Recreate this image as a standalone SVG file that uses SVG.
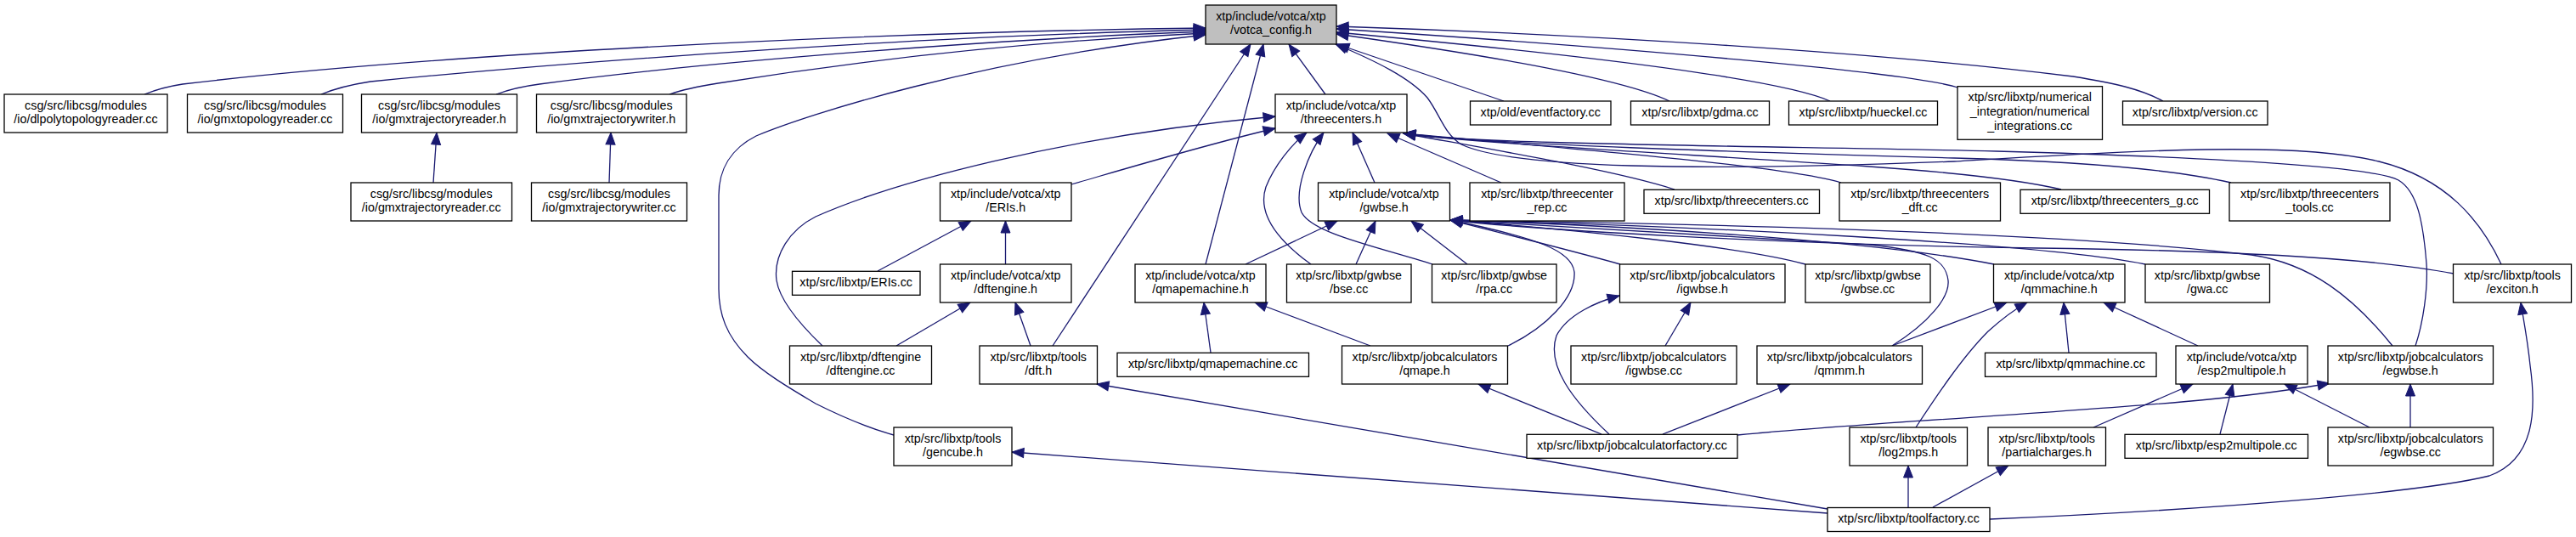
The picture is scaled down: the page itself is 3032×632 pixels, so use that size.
<svg xmlns="http://www.w3.org/2000/svg" width="3032" height="632" viewBox="0 0 3032 632">
<style>
.n rect{fill:#fff;stroke:#000;stroke-width:1.3}
#n0 rect{fill:#bfbfbf}
.n text{font-family:"Liberation Sans",Arial,sans-serif;font-size:14.3px;text-anchor:middle;fill:#000}
.e path{fill:none;stroke:#191970;stroke-width:1.3;marker-end:url(#a)}
</style>
<defs>
<marker id="a" markerUnits="userSpaceOnUse" markerWidth="16" markerHeight="12" refX="14" refY="5.5" orient="auto" overflow="visible"><path d="M0,0 L14,5.5 L0,11 z" fill="#191970" stroke="#191970" stroke-width="1"/></marker>
</defs>
<rect width="3032" height="632" fill="#fff"/>
<g id="edges" class="e">
<path d="M170,111 C185,105 195,102 215,99 C500,65 1000,38 1419,33"/>
<path d="M378,111 C395,104 410,100 436,96 C700,70 1100,42 1419,35"/>
<path d="M584,111 C600,105 612,102 635,99 C850,70 1200,45 1419,37"/>
<path d="M788,111 C805,105 820,102 845,98 C1050,65 1250,47 1419,39"/>
<path d="M1052,512 C1020,503 990,490 960,475 C935,460 900,440 880,420 C855,395 846,370 846,340 L846,230 C846,200 860,175 890,160 C950,135 1150,70 1419,41"/>
<path d="M1239,407 L1472,52"/>
<path d="M1419,311 L1487,52"/>
<path d="M1560,111 L1517,52"/>
<path d="M1770,119 L1574,52"/>
<path d="M2944,311 C2920,260 2880,210 2800,190 C2700,165 2500,178 2300,190 C2000,202 1780,198 1720,170 C1700,158 1695,135 1680,115 C1660,92 1620,72 1572,52"/>
<path d="M1965,119 C1900,88 1700,58 1573,40"/>
<path d="M2154,119 C2100,95 1900,68 1573,38"/>
<path d="M2304,103 C2250,85 1900,55 1573,34"/>
<path d="M2546,119 C2520,105 2490,98 2440,90 C2200,60 1850,40 1573,31"/>
<path d="M2843,407 C2852,380 2858,340 2856,310 C2852,260 2845,225 2823,212 C2790,195 2600,185 2350,178 C2100,172 1720,170 1652,157"/>
<path d="M1767,215 L1633,157"/>
<path d="M1971,223 C1900,200 1750,175 1652,157"/>
<path d="M2167,215 C2100,195 1850,175 1652,157"/>
<path d="M2426,223 C2380,212 2300,203 2200,196 C2000,182 1750,170 1652,157"/>
<path d="M2626,215 C2560,200 2450,190 2300,186 C2050,179 1750,170 1652,157"/>
<path d="M1261,217 C1320,200 1420,170 1501,151"/>
<path d="M968,407 C945,385 918,355 914,330 C910,300 930,270 960,255 C1050,215 1250,160 1501,137"/>
<path d="M1618,215 L1592,156"/>
<path d="M1543,311 C1500,280 1480,250 1490,220 C1500,195 1520,170 1538,156"/>
<path d="M1686,311 C1620,290 1545,275 1532,250 C1522,225 1540,180 1558,156"/>
<path d="M1466,311 L1574,260"/>
<path d="M1596,311 L1619,260"/>
<path d="M1727,311 L1661,260"/>
<path d="M1775,407 C1820,385 1855,350 1853,320 C1850,295 1810,280 1707,259"/>
<path d="M1907,311 C1850,295 1770,275 1707,259"/>
<path d="M2125,311 C2050,290 1850,270 1707,259"/>
<path d="M2347,311 C2200,282 1900,265 1707,259"/>
<path d="M2525,311 C2400,286 2000,266 1707,259"/>
<path d="M2888,322 C2800,305 2650,295 2400,292 C2100,288 1800,270 1707,259"/>
<path d="M2816,407 C2770,350 2720,310 2650,300 C2400,270 1900,262 1707,259"/>
<path d="M2227,407 C2270,380 2295,350 2293,330 C2290,305 2270,295 2200,288 C2000,275 1800,264 1707,259"/>
<path d="M1033,319 L1143,260"/>
<path d="M1183.5,311 L1183.5,260"/>
<path d="M1055,407 L1142,356"/>
<path d="M1213,407 L1195,356"/>
<path d="M1425,415 L1417,356"/>
<path d="M1613,407 L1477,356"/>
<path d="M1885,511 L1740,452"/>
<path d="M1894,511 C1850,470 1820,430 1832,395 C1845,370 1880,355 1906,348"/>
<path d="M1960,407 L1990,356"/>
<path d="M1957,511 L2107,452"/>
<path d="M2045,512 C2200,497 2450,485 2600,470 C2680,462 2720,455 2742,451"/>
<path d="M2227,407 L2362,356"/>
<path d="M2255,503 C2280,465 2310,420 2340,390 C2360,372 2375,362 2386,356"/>
<path d="M2435,415 L2429,356"/>
<path d="M2587,407 L2476,356"/>
<path d="M2464,503 L2581,452"/>
<path d="M2613,511 L2628,452"/>
<path d="M2789,503 L2689,452"/>
<path d="M2837,503 L2837,452"/>
<path d="M2275,597 L2364,548"/>
<path d="M2246,597 L2246,548"/>
<path d="M2342,611 C2600,600 2850,580 2930,560 C2985,540 2985,480 2978,430 C2975,400 2970,375 2967,356"/>
<path d="M2151,599 L1291,452"/>
<path d="M2151,604 L1191,532"/>
<path d="M510,215 L514,156"/>
<path d="M717,215 L719,156"/>
</g>
<g id="n0" class="n"><rect x="1419" y="6" width="154" height="46"/><text x="1496" y="23.6">xtp/include/votca/xtp</text><text x="1496" y="40.3">/votca_config.h</text></g>
<g id="n1" class="n"><rect x="5" y="111" width="192" height="45"/><text x="101" y="128.6">csg/src/libcsg/modules</text><text x="101" y="145.3">/io/dlpolytopologyreader.cc</text></g>
<g id="n2" class="n"><rect x="220.5" y="111" width="183" height="45"/><text x="312" y="128.6">csg/src/libcsg/modules</text><text x="312" y="145.3">/io/gmxtopologyreader.cc</text></g>
<g id="n3" class="n"><rect x="425.5" y="111" width="183" height="45"/><text x="517" y="128.6">csg/src/libcsg/modules</text><text x="517" y="145.3">/io/gmxtrajectoryreader.h</text></g>
<g id="n4" class="n"><rect x="631.5" y="111" width="176.5" height="45"/><text x="719.7" y="128.6">csg/src/libcsg/modules</text><text x="719.7" y="145.3">/io/gmxtrajectorywriter.h</text></g>
<g id="n5" class="n"><rect x="1501" y="111" width="155" height="45"/><text x="1578.5" y="128.6">xtp/include/votca/xtp</text><text x="1578.5" y="145.3">/threecenters.h</text></g>
<g id="n6" class="n"><rect x="1730.5" y="119" width="165.5" height="28"/><text x="1813.2" y="136.7">xtp/old/eventfactory.cc</text></g>
<g id="n7" class="n"><rect x="1919.5" y="119" width="163" height="28"/><text x="2001" y="136.7">xtp/src/libxtp/gdma.cc</text></g>
<g id="n8" class="n"><rect x="2105.5" y="119" width="175" height="28"/><text x="2193" y="136.7">xtp/src/libxtp/hueckel.cc</text></g>
<g id="n9" class="n"><rect x="2304" y="101.7" width="170.5" height="62.6"/><text x="2389.2" y="119.3">xtp/src/libxtp/numerical</text><text x="2389.2" y="136">_integration/numerical</text><text x="2389.2" y="152.7">_integrations.cc</text></g>
<g id="n10" class="n"><rect x="2498.5" y="119" width="170.5" height="28"/><text x="2583.7" y="136.7">xtp/src/libxtp/version.cc</text></g>
<g id="n11" class="n"><rect x="413" y="215" width="189.5" height="45"/><text x="507.7" y="232.6">csg/src/libcsg/modules</text><text x="507.7" y="249.3">/io/gmxtrajectoryreader.cc</text></g>
<g id="n12" class="n"><rect x="625.5" y="215" width="183" height="45"/><text x="717" y="232.6">csg/src/libcsg/modules</text><text x="717" y="249.3">/io/gmxtrajectorywriter.cc</text></g>
<g id="n13" class="n"><rect x="1106.5" y="215" width="154.5" height="45"/><text x="1183.7" y="232.6">xtp/include/votca/xtp</text><text x="1183.7" y="249.3">/ERIs.h</text></g>
<g id="n14" class="n"><rect x="1551.5" y="215" width="155" height="45"/><text x="1629" y="232.6">xtp/include/votca/xtp</text><text x="1629" y="249.3">/gwbse.h</text></g>
<g id="n15" class="n"><rect x="1730" y="215" width="182" height="45"/><text x="1821" y="232.6">xtp/src/libxtp/threecenter</text><text x="1821" y="249.3">_rep.cc</text></g>
<g id="n16" class="n"><rect x="1935" y="223.3" width="206.5" height="28"/><text x="2038.2" y="241">xtp/src/libxtp/threecenters.cc</text></g>
<g id="n17" class="n"><rect x="2165" y="215" width="189.5" height="45"/><text x="2259.7" y="232.6">xtp/src/libxtp/threecenters</text><text x="2259.7" y="249.3">_dft.cc</text></g>
<g id="n18" class="n"><rect x="2378" y="223.3" width="222.5" height="28"/><text x="2489.2" y="241">xtp/src/libxtp/threecenters_g.cc</text></g>
<g id="n19" class="n"><rect x="2624" y="215" width="189" height="45"/><text x="2718.5" y="232.6">xtp/src/libxtp/threecenters</text><text x="2718.5" y="249.3">_tools.cc</text></g>
<g id="n20" class="n"><rect x="932.5" y="319.3" width="150.5" height="28"/><text x="1007.7" y="337">xtp/src/libxtp/ERIs.cc</text></g>
<g id="n21" class="n"><rect x="1106.5" y="311" width="154.5" height="45"/><text x="1183.7" y="328.6">xtp/include/votca/xtp</text><text x="1183.7" y="345.3">/dftengine.h</text></g>
<g id="n22" class="n"><rect x="1336" y="311" width="154" height="45"/><text x="1413" y="328.6">xtp/include/votca/xtp</text><text x="1413" y="345.3">/qmapemachine.h</text></g>
<g id="n23" class="n"><rect x="1514.5" y="311" width="146.5" height="45"/><text x="1587.7" y="328.6">xtp/src/libxtp/gwbse</text><text x="1587.7" y="345.3">/bse.cc</text></g>
<g id="n24" class="n"><rect x="1685.5" y="311" width="146.5" height="45"/><text x="1758.7" y="328.6">xtp/src/libxtp/gwbse</text><text x="1758.7" y="345.3">/rpa.cc</text></g>
<g id="n25" class="n"><rect x="1906.5" y="311" width="194.5" height="45"/><text x="2003.7" y="328.6">xtp/src/libxtp/jobcalculators</text><text x="2003.7" y="345.3">/igwbse.h</text></g>
<g id="n26" class="n"><rect x="2125" y="311" width="147" height="45"/><text x="2198.5" y="328.6">xtp/src/libxtp/gwbse</text><text x="2198.5" y="345.3">/gwbse.cc</text></g>
<g id="n27" class="n"><rect x="2346.5" y="311" width="154.5" height="45"/><text x="2423.7" y="328.6">xtp/include/votca/xtp</text><text x="2423.7" y="345.3">/qmmachine.h</text></g>
<g id="n28" class="n"><rect x="2525" y="311" width="146.5" height="45"/><text x="2598.2" y="328.6">xtp/src/libxtp/gwbse</text><text x="2598.2" y="345.3">/gwa.cc</text></g>
<g id="n29" class="n"><rect x="2887.5" y="311" width="139" height="45"/><text x="2957" y="328.6">xtp/src/libxtp/tools</text><text x="2957" y="345.3">/exciton.h</text></g>
<g id="n30" class="n"><rect x="929.5" y="407" width="167" height="45"/><text x="1013" y="424.6">xtp/src/libxtp/dftengine</text><text x="1013" y="441.3">/dftengine.cc</text></g>
<g id="n31" class="n"><rect x="1153" y="407" width="138.5" height="45"/><text x="1222.2" y="424.6">xtp/src/libxtp/tools</text><text x="1222.2" y="441.3">/dft.h</text></g>
<g id="n32" class="n"><rect x="1315" y="415.3" width="225.5" height="28"/><text x="1427.7" y="433">xtp/src/libxtp/qmapemachine.cc</text></g>
<g id="n33" class="n"><rect x="1579.5" y="407" width="195" height="45"/><text x="1677" y="424.6">xtp/src/libxtp/jobcalculators</text><text x="1677" y="441.3">/qmape.h</text></g>
<g id="n34" class="n"><rect x="1849" y="407" width="195" height="45"/><text x="1946.5" y="424.6">xtp/src/libxtp/jobcalculators</text><text x="1946.5" y="441.3">/igwbse.cc</text></g>
<g id="n35" class="n"><rect x="2068" y="407" width="194.5" height="45"/><text x="2165.2" y="424.6">xtp/src/libxtp/jobcalculators</text><text x="2165.2" y="441.3">/qmmm.h</text></g>
<g id="n36" class="n"><rect x="2336.5" y="415.3" width="201.5" height="28"/><text x="2437.2" y="433">xtp/src/libxtp/qmmachine.cc</text></g>
<g id="n37" class="n"><rect x="2561" y="407" width="155" height="45"/><text x="2638.5" y="424.6">xtp/include/votca/xtp</text><text x="2638.5" y="441.3">/esp2multipole.h</text></g>
<g id="n38" class="n"><rect x="2740" y="407" width="194.5" height="45"/><text x="2837.2" y="424.6">xtp/src/libxtp/jobcalculators</text><text x="2837.2" y="441.3">/egwbse.h</text></g>
<g id="n39" class="n"><rect x="1052" y="503" width="139" height="45"/><text x="1121.5" y="520.6">xtp/src/libxtp/tools</text><text x="1121.5" y="537.3">/gencube.h</text></g>
<g id="n40" class="n"><rect x="1797" y="511.3" width="248" height="28"/><text x="1921" y="529">xtp/src/libxtp/jobcalculatorfactory.cc</text></g>
<g id="n41" class="n"><rect x="2177" y="503" width="138.5" height="45"/><text x="2246.2" y="520.6">xtp/src/libxtp/tools</text><text x="2246.2" y="537.3">/log2mps.h</text></g>
<g id="n42" class="n"><rect x="2340" y="503" width="138.5" height="45"/><text x="2409.2" y="520.6">xtp/src/libxtp/tools</text><text x="2409.2" y="537.3">/partialcharges.h</text></g>
<g id="n43" class="n"><rect x="2501" y="511.3" width="215.5" height="28"/><text x="2608.7" y="529">xtp/src/libxtp/esp2multipole.cc</text></g>
<g id="n44" class="n"><rect x="2740" y="503" width="194.5" height="45"/><text x="2837.2" y="520.6">xtp/src/libxtp/jobcalculators</text><text x="2837.2" y="537.3">/egwbse.cc</text></g>
<g id="n45" class="n"><rect x="2151" y="597.5" width="191" height="28"/><text x="2246.5" y="615.2">xtp/src/libxtp/toolfactory.cc</text></g>
</svg>
